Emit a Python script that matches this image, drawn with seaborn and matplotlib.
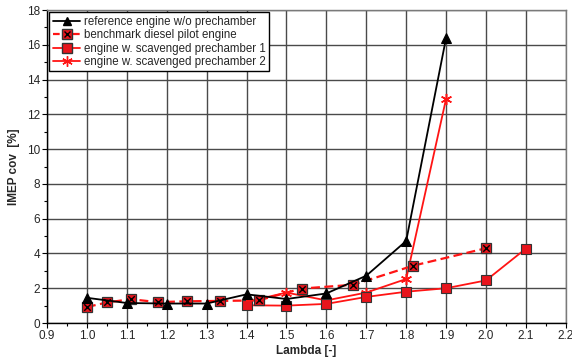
import matplotlib
matplotlib.use("Agg")
import matplotlib.pyplot as plt
from matplotlib.lines import Line2D
from matplotlib.legend_handler import HandlerTuple
from matplotlib.ticker import MultipleLocator
import seaborn as sns
import pandas as pd

# IMEP coefficient of variation vs. lambda
ref_lambda = [1.0, 1.1, 1.2, 1.3, 1.4, 1.5, 1.6, 1.7, 1.8, 1.9]
ref_cov = [1.45, 1.15, 1.12, 1.12, 1.65, 1.38, 1.7, 2.72, 4.72, 16.4]

bench_lambda = [1.0, 1.05, 1.11, 1.177, 1.25, 1.334, 1.43, 1.538, 1.667, 1.818, 2.0]
bench_cov = [0.92, 1.18, 1.37, 1.2, 1.25, 1.27, 1.3, 1.98, 2.2, 3.3, 4.3]

pc1_lambda = [1.4, 1.5, 1.6, 1.7, 1.8, 1.9, 2.0, 2.1]
pc1_cov = [1.02, 1.0, 1.1, 1.5, 1.8, 2.0, 2.45, 4.28]

pc2_lambda = [1.4, 1.5, 1.6, 1.7, 1.8, 1.9]
pc2_cov = [1.22, 1.75, 1.3, 1.75, 2.53, 12.9]

labels = ["reference engine w/o prechamber",
          "benchmark diesel pilot engine",
          "engine w. scavenged prechamber 1",
          "engine w. scavenged prechamber 2"]

sns.set_theme(style="white")
plt.rcParams["font.family"] = ["Liberation Sans", "DejaVu Sans"]

RED = "#ff1414"
FACE = "#e8141c"

fig = plt.figure(figsize=(5.72, 3.62), dpi=100)
ax = fig.add_axes([0.0822, 0.1077, 0.907, 0.8646])

ref = pd.DataFrame({"x": ref_lambda, "y": ref_cov})
bench = pd.DataFrame({"x": bench_lambda, "y": bench_cov})
pc1 = pd.DataFrame({"x": pc1_lambda, "y": pc1_cov})
pc2 = pd.DataFrame({"x": pc2_lambda, "y": pc2_cov})

sns.lineplot(data=pc2, x="x", y="y", ax=ax, sort=False, color=RED, lw=1.3,
             marker=(6, 2, 0), markersize=8, markeredgecolor=RED,
             markeredgewidth=1.1, zorder=3)
sns.lineplot(data=pc1, x="x", y="y", ax=ax, sort=False, color=RED, lw=1.3,
             marker="s", markersize=7, markerfacecolor=FACE,
             markeredgecolor="#333333", markeredgewidth=0.8, zorder=4)
sns.lineplot(data=bench, x="x", y="y", ax=ax, sort=False, color=RED, lw=1.6,
             linestyle=(0, (4, 2)), marker="s", markersize=7.5,
             markerfacecolor=FACE, markeredgecolor="#333333",
             markeredgewidth=0.9, zorder=5)
sns.scatterplot(data=bench, x="x", y="y", ax=ax, marker="x", s=22,
                color="black", linewidth=1.0, zorder=6)
sns.lineplot(data=ref, x="x", y="y", ax=ax, sort=False, color="black", lw=1.3,
             marker="^", markersize=6.5, markeredgecolor="black", zorder=7)

ax.set_xlim(0.9, 2.2)
ax.set_ylim(0, 18)
ax.xaxis.set_major_locator(MultipleLocator(0.1))
ax.xaxis.set_minor_locator(MultipleLocator(0.05))
ax.yaxis.set_major_locator(MultipleLocator(2))
ax.yaxis.set_minor_locator(MultipleLocator(1))
ax.set_xticklabels([f"{v:.1f}" for v in ax.get_xticks()])
ax.tick_params(axis="both", which="both", direction="out", length=3.5,
               width=0.8, color="black", labelsize=8.5, pad=1.5,
               bottom=True, left=True)
ax.tick_params(which="minor", length=2.5)

ax.grid(True, which="major", color="#4a4a4a", lw=1.0)
for side in ("left", "bottom"):
    ax.spines[side].set_color("black")
    ax.spines[side].set_linewidth(1.0)
for side in ("top", "right"):
    ax.spines[side].set_color("#7a7a7a")
    ax.spines[side].set_linewidth(1.0)

ax.set_xlabel("Lambda [-]", fontsize=8.5, fontweight="bold", labelpad=2)
ax.set_ylabel("IMEP cov  [%]", fontsize=8.5, fontweight="bold", labelpad=5)

h_ref = Line2D([], [], color="black", lw=1.3, marker="^", markersize=5.5)
h_bench = (Line2D([], [], color=RED, lw=1.6, linestyle=(0, (3, 1.5)),
                  marker="s", markersize=6.5, markerfacecolor=FACE,
                  markeredgecolor="#333333"),
           Line2D([], [], ls="none", marker="x", markersize=4, color="black",
                  markeredgewidth=1.0))
h_pc1 = Line2D([], [], color=RED, lw=1.3, marker="s", markersize=6.5,
               markerfacecolor=FACE, markeredgecolor="#333333")
h_pc2 = Line2D([], [], color=RED, lw=1.3, marker=(6, 2, 0), markersize=7.5,
               markeredgecolor=RED)
leg = ax.legend([h_ref, h_bench, h_pc1, h_pc2], labels, loc="upper left",
                bbox_to_anchor=(0.0, 1.0), fontsize=8.3, frameon=True,
                fancybox=False, edgecolor="black", framealpha=1,
                handlelength=2.4, handletextpad=0.3, labelspacing=0.12,
                borderpad=0.3, borderaxespad=0.2,
                handler_map={tuple: HandlerTuple(ndivide=1)})
leg.get_frame().set_linewidth(1.0)
leg.set_zorder(10)

fig.savefig("out.png", dpi=100)
